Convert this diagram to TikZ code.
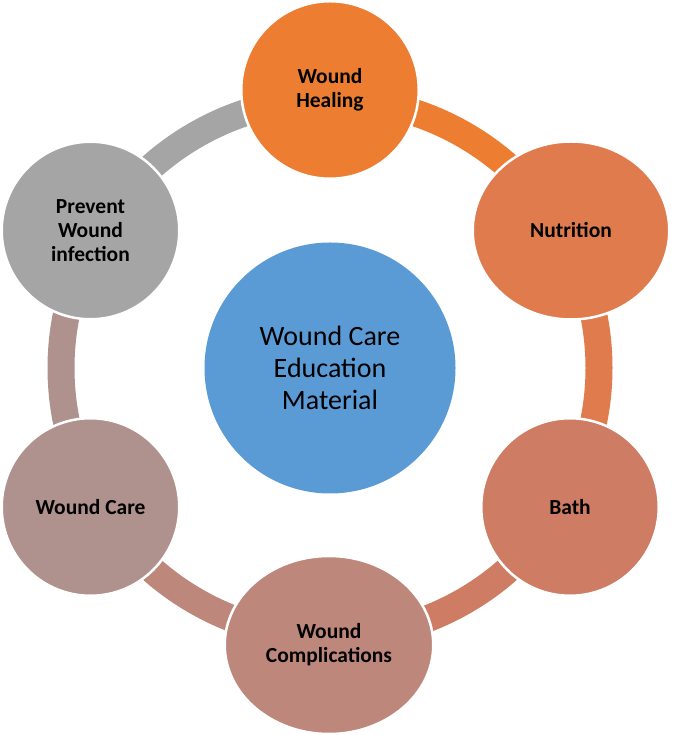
\documentclass[tikz,border=0pt]{standalone}
\usepackage{fontspec}
\setmainfont{Carlito}
\usetikzlibrary{calc,shapes.geometric}
\definecolor{cHeal}{HTML}{ED7D31}
\definecolor{cNut}{HTML}{DF7B4C}
\definecolor{cBath}{HTML}{CE7C63}
\definecolor{cComp}{HTML}{BE877B}
\definecolor{cCare}{HTML}{AF918E}
\definecolor{cPrev}{HTML}{A5A5A5}
\definecolor{cHub}{HTML}{5B9BD5}
\tikzset{
  leaf/.style={circle, draw=white, line width=2.5pt, minimum size=177.5pt, inner sep=0pt,
    align=center, text=black, font=\fontsize{21.5}{24}\selectfont\bfseries},
  oval/.style={ellipse, draw=white, line width=2.5pt, inner sep=0pt,
    align=center, text=black, font=\fontsize{21.5}{24}\selectfont\bfseries},
  hubstyle/.style={circle, fill=cHub, minimum size=251pt, inner sep=0pt,
    align=center, text=black, font=\fontsize{28}{32}\selectfont},
  ring/.style={line width=27pt},
}
\begin{document}
\begin{tikzpicture}[x=1pt,y=1pt]
\useasboundingbox (0,0) rectangle (672,735);
\coordinate (o) at (330,367);
% ring segments
\draw[ring, cHeal] ($(o)+(90:269)$) arc[start angle=90, end angle=30, radius=269pt];
\draw[ring, cNut]  ($(o)+(30:269)$) arc[start angle=30, end angle=-30, radius=269pt];
\draw[ring, cBath] ($(o)+(-30:269)$) arc[start angle=-30, end angle=-90, radius=269pt];
\draw[ring, cComp] ($(o)+(-90:269)$) arc[start angle=-90, end angle=-150, radius=269pt];
\draw[ring, cCare] ($(o)+(-150:269)$) arc[start angle=-150, end angle=-210, radius=269pt];
\draw[ring, cPrev] ($(o)+(150:269)$) arc[start angle=150, end angle=90, radius=269pt];
% nodes
\node[hubstyle] (hub) at (o) {Wound Care\\Education\\Material};
\node[leaf, fill=cHeal] (heal) at (330,645) {Wound\\Healing};
\node[oval, fill=cNut, minimum width=196.5pt, minimum height=178pt] (nut) at (571,504.5) {Nutrition};
\node[leaf, fill=cBath] (bath) at (570,228) {Bath};
\node[oval, fill=cComp, minimum width=208.5pt, minimum height=178pt] (comp) at (329,90) {Wound\\Complications};
\node[leaf, fill=cCare] (care) at (90.5,228) {Wound Care};
\node[leaf, fill=cPrev] (prev) at (90.5,504.5) {Prevent\\Wound\\infection};
\end{tikzpicture}
\end{document}
